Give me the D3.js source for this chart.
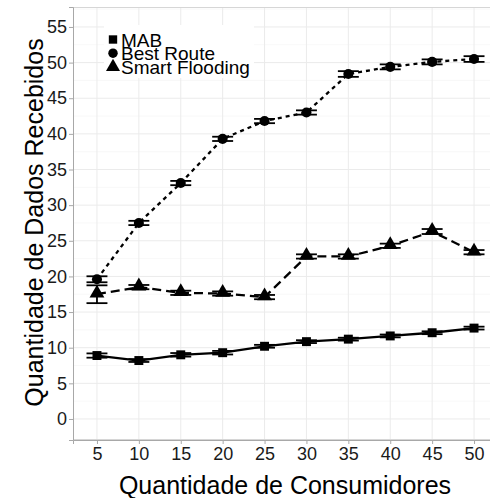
<!DOCTYPE html>
<html>
<head>
<meta charset="utf-8">
<script src="https://cdn.jsdelivr.net/npm/d3@7"></script>
<style>
  html, body { margin: 0; padding: 0; background: #fff; }
  svg { display: block; font-family: "Liberation Sans", Arial, sans-serif; }
</style>
</head>
<body>
<svg id="chart" width="490" height="498"></svg>
<script>
// Consumers on the x axis
const consumers = [5, 10, 15, 20, 25, 30, 35, 40, 45, 50];

// Mean received data per strategy, with half-width of the error bars
const mabValues = [8.9, 8.2, 9.0, 9.3, 10.2, 10.85, 11.2, 11.65, 12.1, 12.75];
const mabErr    = [0.3, 0.2, 0.25, 0.25, 0.2, 0.2, 0.2, 0.2, 0.2, 0.2];
const bestRouteValues = [19.6, 27.5, 33.1, 39.3, 41.8, 43.0, 48.4, 49.4, 50.1, 50.5];
const bestRouteErr    = [0.42, 0.3, 0.3, 0.3, 0.3, 0.3, 0.4, 0.35, 0.35, 0.4];
const floodingValues = [17.5, 18.5, 17.7, 17.6, 17.1, 22.8, 22.8, 24.3, 26.3, 23.4];
const floodingErr    = [1.25, 0.3, 0.3, 0.3, 0.3, 0.3, 0.3, 0.3, 0.35, 0.3];

const yTicks = [0, 5, 10, 15, 20, 25, 30, 35, 40, 45, 50, 55];
const xTicks = consumers;
const seriesNames = ["MAB", "Best Route", "Smart Flooding"];

const series = [
  { name: seriesNames[0], values: mabValues, err: mabErr, shape: "square", dash: null },
  { name: seriesNames[1], values: bestRouteValues, err: bestRouteErr, shape: "circle", dash: "4,4" },
  { name: seriesNames[2], values: floodingValues, err: floodingErr, shape: "triangle", dash: "9,5" }
];

const svg = d3.select("#chart");
const panel = { left: 73, right: 498, top: 7, bottom: 440 };

const x = d3.scaleLinear().domain([2.14, 52.86]).range([panel.left, panel.right]);
const y = d3.scaleLinear().domain([-2.95, 57.8]).range([panel.bottom, panel.top]);

// Panel background
svg.append("rect")
  .attr("x", panel.left).attr("y", panel.top)
  .attr("width", panel.right - panel.left).attr("height", panel.bottom - panel.top)
  .attr("fill", "#fff");

const grid = svg.append("g");
// minor horizontal grid
d3.range(2.5, 57.6, 5).forEach(v => {
  grid.append("line")
    .attr("x1", panel.left).attr("x2", panel.right)
    .attr("y1", y(v)).attr("y2", y(v))
    .attr("stroke", "#f4f4f4").attr("stroke-width", 0.6);
});
// major grid
yTicks.forEach(v => {
  grid.append("line")
    .attr("x1", panel.left).attr("x2", panel.right)
    .attr("y1", y(v)).attr("y2", y(v))
    .attr("stroke", "#ebebeb").attr("stroke-width", 1);
});
xTicks.forEach(v => {
  grid.append("line")
    .attr("x1", x(v)).attr("x2", x(v))
    .attr("y1", panel.top).attr("y2", panel.bottom)
    .attr("stroke", "#ebebeb").attr("stroke-width", 1);
});

// Panel border
svg.append("rect")
  .attr("x", panel.left + 0.5).attr("y", panel.top + 0.5)
  .attr("width", panel.right - panel.left).attr("height", panel.bottom - panel.top - 1)
  .attr("fill", "none").attr("stroke", "#d6d6d6").attr("stroke-width", 1);

// Axes
const xAxis = d3.axisBottom(x).tickValues(xTicks).tickSize(4).tickPadding(3);
const yAxis = d3.axisLeft(y).tickValues(yTicks).tickSize(4).tickPadding(2);

const gx = svg.append("g").attr("transform", `translate(0,${panel.bottom})`).call(xAxis);
const gy = svg.append("g").attr("transform", `translate(${panel.left},0)`).call(yAxis);
[gx, gy].forEach(g => {
  g.select(".domain").attr("stroke", "#a8a8a8").attr("stroke-width", 1);
  g.selectAll(".tick line").attr("stroke", "#a8a8a8");
  g.selectAll(".tick text")
    .attr("fill", "#1a1a1a")
    .style("font-size", "18px")
    .style("font-family", "'Liberation Sans', Arial, sans-serif");
});

// Axis titles
svg.append("text")
  .attr("x", 285).attr("y", 494)
  .attr("text-anchor", "middle")
  .attr("fill", "#000")
  .style("font-size", "25px")
  .text("Quantidade de Consumidores");

svg.append("text")
  .attr("transform", `translate(43,${(37 + 408) / 2}) rotate(-90)`)
  .attr("text-anchor", "middle")
  .attr("fill", "#000")
  .style("font-size", "25px")
  .text("Quantidade de Dados Recebidos");

// Symbol drawing
const symbolFor = {
  square: d3.symbol().type(d3.symbolSquare).size(80),
  circle: d3.symbol().type(d3.symbolCircle).size(80),
  triangle: d3.symbol().type(d3.symbolTriangle).size(95)
};

const plot = svg.append("g");
const capHalf = 1.25;

series.forEach(s => {
  const pts = consumers.map((c, i) => ({ c, v: s.values[i], e: s.err[i] }));

  // Error bars
  const eb = plot.append("g").attr("stroke", "#000").attr("stroke-width", 1.8);
  pts.forEach(p => {
    eb.append("line")
      .attr("x1", x(p.c)).attr("x2", x(p.c))
      .attr("y1", y(p.v - p.e)).attr("y2", y(p.v + p.e));
    [p.v - p.e, p.v + p.e].forEach(cv => {
      eb.append("line")
        .attr("x1", x(p.c - capHalf)).attr("x2", x(p.c + capHalf))
        .attr("y1", y(cv)).attr("y2", y(cv));
    });
  });

  // Connecting line
  const line = d3.line().x(p => x(p.c)).y(p => y(p.v));
  plot.append("path")
    .datum(pts)
    .attr("d", line)
    .attr("fill", "none")
    .attr("stroke", "#000")
    .attr("stroke-width", 2.3)
    .attr("stroke-dasharray", s.dash);

  // Points
  plot.selectAll(null)
    .data(pts)
    .enter().append("path")
    .attr("d", symbolFor[s.shape])
    .attr("transform", p => `translate(${x(p.c)},${y(p.v) + (s.shape === "triangle" ? -1 : 0)})`)
    .attr("fill", "#000");
});

// Legend (inside panel, top-left)
const legend = svg.append("g");
legend.append("rect")
  .attr("x", 104).attr("y", 25).attr("width", 150).attr("height", 53)
  .attr("fill", "#fff");
series.forEach((s, i) => {
  const cy = 39.5 + i * 13.7;
  legend.append("path")
    .attr("d", d3.symbol().type(
      s.shape === "square" ? d3.symbolSquare : s.shape === "circle" ? d3.symbolCircle : d3.symbolTriangle
    ).size(s.shape === "triangle" ? 85 : 70))
    .attr("transform", `translate(113,${cy})`)
    .attr("fill", "#000");
  legend.append("text")
    .attr("x", 121).attr("y", cy + 7)
    .attr("fill", "#000")
    .style("font-size", "19px")
    .text(s.name);
});
</script>
</body>
</html>
